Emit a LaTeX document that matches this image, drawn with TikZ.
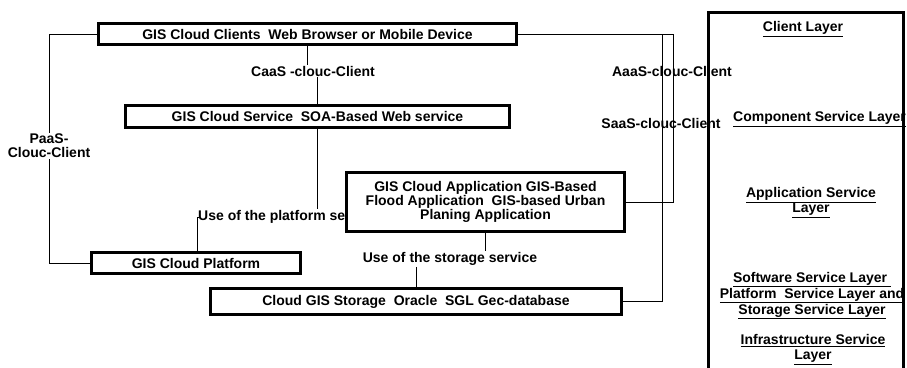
\documentclass[tikz,border=0pt]{standalone}
\usepackage{fontspec}
\setmainfont{Liberation Sans}
\begin{document}
\begin{tikzpicture}[x=1pt,y=-1pt,
  txt/.style={font=\bfseries\fontsize{14}{14}\selectfont, align=center, inner sep=1pt},
  box/.style={txt, draw, line width=2.6pt, fill=white, inner sep=0pt},
  lbl/.style={txt},
  conn/.style={line width=0.8pt},
  layer/.style={font=\bfseries\fontsize{14}{15}\selectfont, align=center, inner sep=0pt}]
\useasboundingbox (0,0) rectangle (907,367);
% connectors' labels
\node[lbl] (caas) at (313,71) {CaaS -clouc-Client};
\node[lbl] (paas) at (49,146) {PaaS-\\Clouc-Client};
\node[lbl, anchor=west] (upl) at (197,217) {Use of the platform service};
\node[lbl] (ust) at (450,259) {Use of the storage service};
\coordinate (ja) at (673,34);
\coordinate (js) at (662,34);
% boxes (centres)
\node[box, minimum width=418pt, minimum height=21pt] (cl) at (307.5,34) {GIS Cloud Clients\ \ Web Browser or Mobile Device};
\node[box, minimum width=384pt, minimum height=22pt] (sv) at (317.5,116.5) {GIS Cloud Service\ \ SOA-Based Web service};
\node[box, minimum width=209pt, minimum height=21pt] (pf) at (196,263) {GIS Cloud Platform};
\node[box, minimum width=411pt, minimum height=26pt] (st) at (416,301.5) {Cloud GIS Storage\ \ Oracle\ \ SGL Gec-database};
% connectors
\draw[conn] (cl.west) -| (paas.north);
\draw[conn] (paas.south) |- (pf.west);
\draw[conn] (cl.south) -- (cl.south |- caas.north);
\draw[conn] (caas.south -| sv.north) -- (sv.north);
\draw[conn] (sv.south) -- (sv.south |- upl.north);
\draw[conn] ([xshift=2pt]upl.west) -- (upl.west) -- (upl.west |- pf.north);
\draw[conn] (st.north |- ust.south) -- (st.north);
\draw[conn] (cl.east) -- (ja);
\draw[conn] (js) |- (st.east);
% application box drawn over the platform label
\node[box, minimum width=278pt, minimum height=59pt] (app) at (485.5,202) {GIS Cloud Application GIS-Based\\Flood Application\ \ GIS-based Urban\\Planing Application};
\draw[conn] (ja) |- (app.east);
\draw[conn] (app.south) -- (app.south |- ust.north);
\node[lbl] (aaas) at (672,71) {AaaS-clouc-Client};
\node[lbl] (saas) at (661,123) {SaaS-clouc-Client};
% layer column
\draw[line width=3pt] (708,372) -- (708,12) -- (903,12) -- (903,372);
\node[layer] (l1) at (803,29) {\underline{Client Layer}};
\node[layer] (l2) at (819.5,119) {\underline{Component Service Layer}};
\node[layer] (l3) at (811,202.5) {\underline{Application Service}\\\underline{Layer}};
\node[layer] (l4) at (812,295.5) {\underline{Software Service Layer }\\\underline{Platform\ \ Service Layer and}\\\underline{Storage Service Layer}};
\node[layer] (l5) at (813,349.5) {\underline{Infrastructure Service}\\\underline{Layer}};
\end{tikzpicture}
\end{document}
